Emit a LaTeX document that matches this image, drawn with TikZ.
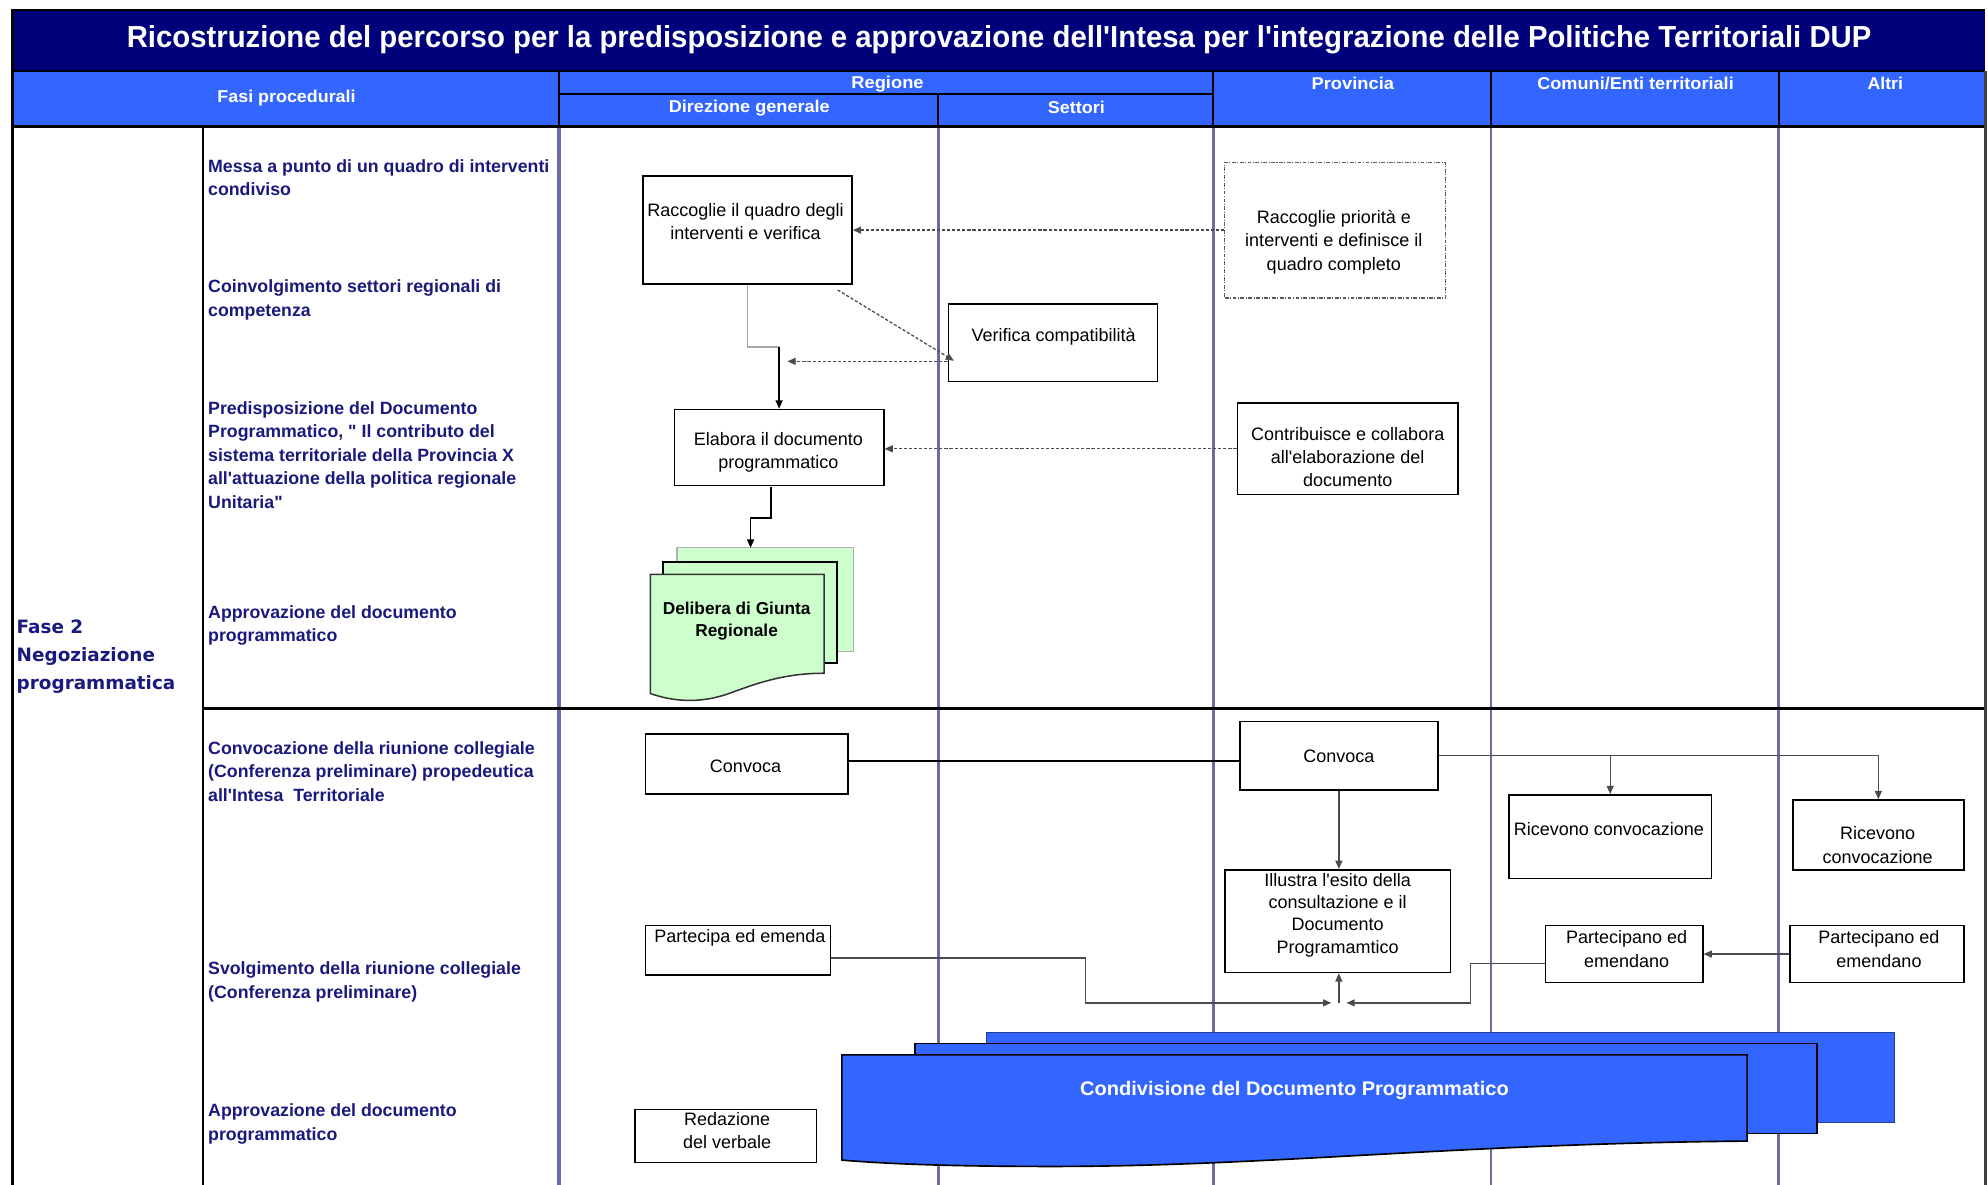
\documentclass[tikz,border=0pt]{standalone}
\usepackage{fontspec}
\setmainfont{Liberation Sans}[Ligatures=TeXOff]
\newfontfamily\fasefont{DejaVu Sans}
\usetikzlibrary{arrows.meta,calc}
\definecolor{navy}{HTML}{00007A}
\definecolor{hdrblue}{HTML}{3366FF}
\definecolor{lanecol}{HTML}{6C6CA4}
\definecolor{fasicol}{HTML}{1A1A7E}
\definecolor{docgreen}{HTML}{CCFFCC}
\newcommand{\fw}[2]{\resizebox{#1}{\height}{#2}}
\tikzset{
  box/.style={draw=black, line width=1.3pt, fill=white, inner sep=0pt},
  dashbox/.style={draw=gray!70!black, line width=1pt, fill=white, inner sep=0pt, dash pattern=on 3pt off 1.2pt on 0.8pt off 1.2pt},
  btxt/.style={font=\fontsize{14.2}{18.3}\selectfont, align=center, inner sep=0pt},
  fasi/.style={font=\bfseries\fontsize{14}{18.5}\selectfont, text=fasicol, align=left, anchor=north west, inner sep=0pt},
  hdr/.style={text=white, font=\bfseries\fontsize{13.5}{15}\selectfont, inner sep=0pt},
  arr/.style={-{Triangle[length=6.5pt,width=5.5pt]}, line width=1pt},
  dotarr/.style={arr, dash pattern=on 2.5pt off 1.5pt, draw=gray!60!black},
  garr/.style={arr, draw=gray!60!black},
  lanel/.style={draw=lanecol, line width=2.2pt}
}
\begin{document}
\begin{tikzpicture}[x=1pt,y=-1pt]
\useasboundingbox (0,0) rectangle (1568,934);
\fill[white] (0,0) rectangle (1568,934);
% title and header
\fill[navy] (9,8) rectangle (1566,56);
\fill[hdrblue] (9,56) rectangle (1566,100);
\node[text=white, inner sep=0pt] (title) at (788,31) {\fw{1376pt}{\bfseries\fontsize{24}{28}\selectfont Ricostruzione del percorso per la predisposizione e approvazione dell'Intesa per l'integrazione delle Politiche Territoriali DUP}};
\draw[black, line width=2pt] (9,56) -- (1566,56);
\draw[black, line width=1.5pt] (441,56) -- (441,100) (957,56) -- (957,100) (1176,56) -- (1176,100) (1403,56) -- (1403,100) (740,74) -- (740,100) (441,74) -- (957,74);
\node[hdr] (h1) at (226,77) {\fw{109pt}{Fasi procedurali}};
\node[hdr] (h2) at (700,66) {\fw{57pt}{Regione}};
\node[hdr] (h3) at (591,85) {\fw{127pt}{Direzione generale}};
\node[hdr] (h4) at (849,85) {\fw{45pt}{Settori}};
\node[hdr] (h5) at (1067,66) {\fw{65pt}{Provincia}};
\node[hdr] (h6) at (1290,66) {\fw{155pt}{Comuni/Enti territoriali}};
\node[hdr] (h7) at (1487,66) {\fw{28pt}{Altri}};
% body grid
\draw[black, line width=2pt] (160,100) -- (160,940);
\draw[lanel, line width=2.6pt] (441,100) -- (441,940);
\draw[lanel] (740,100) -- (740,940) (957,100) -- (957,940) (1176,100) -- (1176,940) (1403,100) -- (1403,940);
\draw[black, line width=2.6pt] (160,559) -- (1566,559);
\draw[black, line width=2.6pt] (9,100) -- (1566,100);
\draw[black, line width=2.6pt] (10,7) -- (10,940);
\draw[black!75, line width=1.6pt] (1566,56) -- (1566,940);
\draw[black, line width=1.5pt] (9,8) -- (1566,8);
% left texts
\node[font=\fasefont\bfseries\fontsize{14.5}{22}\selectfont, text=fasicol, align=left, anchor=north west, inner sep=0pt] (fase) at (13,488.5) {Fase 2\\Negoziazione\\programmatica};
\node[fasi] (f1) at (164,125.4) {Messa a punto di un quadro di interventi\\condiviso};
\node[fasi] (f2) at (164,220.4) {Coinvolgimento settori regionali di\\competenza};
\node[fasi] (f3) at (164,316.6) {Predisposizione del Documento\\Programmatico, " Il contributo del\\sistema territoriale della Provincia X\\all'attuazione della politica regionale\\Unitaria"};
\node[fasi] (f4) at (164,477.4) {Approvazione del documento\\programmatico};
\node[fasi] (f5) at (164,584.6) {Convocazione della riunione collegiale\\(Conferenza preliminare) propedeutica\\all'Intesa\ \ Territoriale};
\node[fasi] (f6) at (164,758.6) {Svolgimento della riunione collegiale\\(Conferenza preliminare)};
\node[fasi] (f7) at (164,870.6) {Approvazione del documento\\programmatico};
% upper boxes
\node[box, minimum width=165pt, minimum height=85pt] (b1) at (589.5,181.5) {};
\node[btxt] at (588,174.8) {Raccoglie il quadro degli\\interventi e verifica};
\node[box, minimum width=165pt, minimum height=61pt] (vc) at (830.5,270.5) {};
\node[btxt] at (831,265.6) {Verifica compatibilità};
\node[dashbox, minimum width=174pt, minimum height=107pt] (b3) at (1053,181.5) {};
\node[btxt] at (1052,191) {Raccoglie priorità e\\interventi e definisce il\\quadro completo};
\node[box, minimum width=165pt, minimum height=60pt] (b4) at (614.5,353) {};
\node[btxt] at (614,357) {Elabora il documento\\programmatico};
\node[box, minimum width=174pt, minimum height=72pt] (b5) at (1063,354) {};
\node[btxt] at (1063,360.5) {Contribuisce e collabora\\all'elaborazione del\\documento};
% delibera stack
\filldraw[fill=docgreen, draw=gray!60, line width=1pt] (534,432) rectangle (673,514);
\filldraw[fill=docgreen, draw=black, line width=1.5pt] (523,443) rectangle (660,523);
\filldraw[fill=docgreen, draw=black!80, line width=1.2pt] (513,453) -- (650,453) -- (650,531) .. controls (615,531) and (592,541) .. (572,548) .. controls (550,555) and (530,553) .. (513,547) -- cycle;
\coordinate (delb) at (592,432);
\node[font=\bfseries\fontsize{13.6}{17}\selectfont, align=center, inner sep=0pt] (del) at (581,490) {Delibera di Giunta\\Regionale};
% upper connectors
\draw[dotarr] (b3.west) -- (b1.east);
\coordinate (j1) at (621,285);
\coordinate (j2) at (614.5,273.5);
\draw[dotarr] ($(b1.south east)+(-12,4)$) -- ($(vc.west)+(5,14)$);
\draw[dotarr] (vc.west |- j1) -- (j1);
\draw[draw=gray!70, line width=1.2pt] (b1.south) |- (j2);
\draw[arr] (j2) -- (b4.north);
\draw[dotarr] (b5.west) -- (b5.west -| b4.east);
\coordinate (j3a) at (608,384);
\coordinate (j3) at (592,408.5);
\draw[arr] (j3a) |- (j3) -- (delb);
% lower boxes
\node[box, minimum width=160pt, minimum height=47pt] (cd) at (589,602.5) {};
\node[btxt] at (588,604.6) {Convoca};
\node[box, minimum width=156pt, minimum height=54pt] (cp) at (1056,596) {};
\node[btxt] at (1056,596.8) {Convoca};
\node[box, minimum width=160pt, minimum height=66pt] (rc) at (1270,660) {};
\node[btxt] at (1269,654) {Ricevono convocazione};
\node[box, minimum width=135pt, minimum height=55pt] (ra) at (1481.5,658.5) {};
\node[btxt] at (1481,666.5) {Ricevono\\convocazione};
\node[box, minimum width=178pt, minimum height=81pt] (il) at (1055,726.5) {};
\node[btxt, font=\fontsize{14.2}{17.5}\selectfont] at (1055,721.8) {Illustra l'esito della\\consultazione e il\\Documento\\Programamtico};
\node[box, minimum width=146pt, minimum height=39pt] (pe) at (582,749.5) {};
\node[btxt] at (583.6,739.5) {Partecipa ed emenda};
\node[box, minimum width=124pt, minimum height=45pt] (pc) at (1281,752.5) {};
\node[btxt] at (1283,748.5) {Partecipano ed\\emendano};
\node[box, minimum width=137pt, minimum height=45pt] (pa) at (1480.5,752.5) {};
\node[btxt] at (1482,748.5) {Partecipano ed\\emendano};
% lower connectors
\coordinate (l1) at (0,600);
\draw[black, line width=1.3pt] (cd.east |- l1) -- (cp.west |- l1);
\draw[garr] (cp.east) -| (ra.north);
\draw[garr] (rc.north |- cp.east) -- (rc.north);
\draw[garr] (cp.south) -- (cp.south |- il.north);
\draw[garr] (pa.west) -- (pc.east);
\coordinate (jl) at (1050,791);
\coordinate (jr) at (1062,791);
\coordinate (ju) at (1056,791);
\draw[garr] ($(pe.east)+(0,6)$) -- (856,755.5) -- (856,791) -- (jl);
\draw[garr] ($(pc.west)+(0,7.5)$) -- (1160,760) -- (1160,791) -- (jr);
\draw[garr] (ju) -- (ju |- il.south);
% condivisione stack
\filldraw[fill=hdrblue, draw=hdrblue!60!black, line width=0.8pt] (778,814) rectangle (1494,885);
\filldraw[fill=hdrblue, draw=black, line width=1.5pt] (722,823) rectangle (1433,894);
\filldraw[fill=hdrblue, draw=black, line width=1.3pt] (664,832) -- (1378,832) -- (1378,900) .. controls (1150,902) and (1000,920) .. (830,920) .. controls (750,920) and (700,918) .. (664,915) -- cycle;
\node[text=white, font=\bfseries\fontsize{15.5}{17}\selectfont, inner sep=0pt] (cond) at (1021,860) {\fw{338pt}{Condivisione del Documento Programmatico}};
\node[box, minimum width=143pt, minimum height=42pt] (rv) at (572.5,896) {};
\node[btxt] at (573.5,892) {Redazione\\del verbale};
\end{tikzpicture}
\end{document}
